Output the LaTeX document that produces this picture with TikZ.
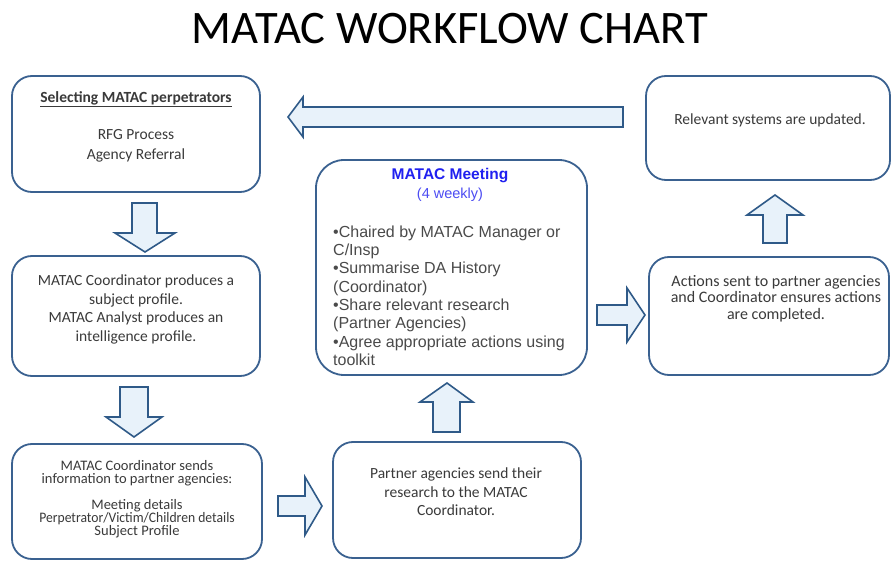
\documentclass[tikz,border=0pt]{standalone}
\usepackage{fontspec}
\setmainfont{Carlito}
\newfontfamily\arialf{Liberation Sans}
\definecolor{bordc}{HTML}{3A6190}
\definecolor{arrb}{HTML}{2F5A88}
\definecolor{arrf}{HTML}{E8F2FA}
\definecolor{txt}{HTML}{3A3A3A}
\definecolor{mtxt}{HTML}{4A4A4A}
\definecolor{mblue}{HTML}{2020F0}
\tikzset{
  box/.style={draw=bordc, line width=1.8pt, rounded corners=20pt, fill=white},
  btxt/.style={align=center, text=txt, inner sep=0pt, font=\fontsize{15.5}{18.5}\selectfont},
  barrow/.style={draw=arrb, line width=1.6pt, fill=arrf, line join=miter},
}
\begin{document}
\begin{tikzpicture}[x=1pt,y=-1pt]
\useasboundingbox (0,0) rectangle (891,561);
% title
\node[inner sep=0pt, anchor=base, font=\fontsize{46.6}{50}\selectfont, text=black] (title) at (450,44) {MATAC WORKFLOW CHART};
% boxes
\node[box, minimum width=248pt, minimum height=116pt] (b1) at (136,134) {};
\node[box, minimum width=248pt, minimum height=120pt] (b2) at (136,316) {};
\node[box, minimum width=250pt, minimum height=115pt] (b3) at (137,501.5) {};
\node[box, rounded corners=28pt, minimum width=271pt, minimum height=215pt] (b4) at (451.5,267.5) {};
\node[box, minimum width=244pt, minimum height=104pt] (b5) at (768,128) {};
\node[box, minimum width=240pt, minimum height=118pt] (b6) at (769,316) {};
\node[box, minimum width=248pt, minimum height=116pt] (b7) at (457,500) {};
% texts
\node[btxt, font=\bfseries\fontsize{15.5}{18.5}\selectfont] (t1a) at (136,99) {\underline{Selecting MATAC perpetrators}};
\node[btxt, font=\fontsize{15.5}{20}\selectfont] (t1b) at (136,146) {RFG Process\\Agency Referral};
\node[btxt] (t2) at (136,309.5) {MATAC Coordinator produces a\\subject profile.\\MATAC Analyst produces an\\intelligence profile.};
\node[btxt, font=\fontsize{14.5}{13}\selectfont] (t3) at (137,499) {MATAC Coordinator sends\\information to partner agencies:\\[13pt]Meeting details\\\scalebox{0.94}[1]{Perpetrator/Victim/Children details}\\Subject Profile};
\node[btxt] (t5) at (770,120) {Relevant systems are updated.};
\node[btxt, font=\fontsize{16}{16.5}\selectfont] (t6) at (776,298.5) {Actions sent to partner agencies\\and Coordinator ensures actions\\are completed.};
\node[btxt] (t7) at (456,492) {Partner agencies send their\\research to the MATAC\\Coordinator.};
% meeting text
\node[inner sep=0pt, anchor=base, text=mblue, font=\arialf\bfseries\fontsize{15.5}{17}\selectfont] (mt) at (450,180) {MATAC Meeting};
\node[inner sep=0pt, anchor=base, text=mblue!80, font=\arialf\fontsize{14.5}{17}\selectfont] (mw) at (450,199) {(4 weekly)};
\node[inner sep=0pt, anchor=north west, align=left, text=mtxt, font=\arialf\fontsize{16}{18.3}\selectfont] (mb) at (333,225.5) {•Chaired by MATAC Manager or\\C/Insp\\•Summarise DA History\\(Coordinator)\\•Share relevant research\\(Partner Agencies)\\•Agree appropriate actions using\\toolkit};
% block arrows
\draw[barrow] (623,107) -- (303,107) -- (303,97) -- (288,117) -- (303,137) -- (303,127) -- (623,127) -- cycle;
\draw[barrow] (132,203) -- (157,203) -- (157,233) -- (175,233) -- (145,252) -- (115,233) -- (132,233) -- cycle;
\draw[barrow] (120,387) -- (148,387) -- (148,417) -- (162,417) -- (134,437) -- (106,417) -- (120,417) -- cycle;
\draw[barrow] (433,432) -- (460,432) -- (460,402) -- (473,402) -- (447,383) -- (420,402) -- (433,402) -- cycle;
\draw[barrow] (763,243) -- (787,243) -- (787,215) -- (803,215) -- (775,195) -- (747,215) -- (763,215) -- cycle;
\draw[barrow] (278,496) -- (305,496) -- (305,477) -- (322,506) -- (305,535) -- (305,516) -- (278,516) -- cycle;
\draw[barrow] (597,305) -- (627,305) -- (627,288) -- (645,315) -- (627,342) -- (627,325) -- (597,325) -- cycle;
\end{tikzpicture}
\end{document}
